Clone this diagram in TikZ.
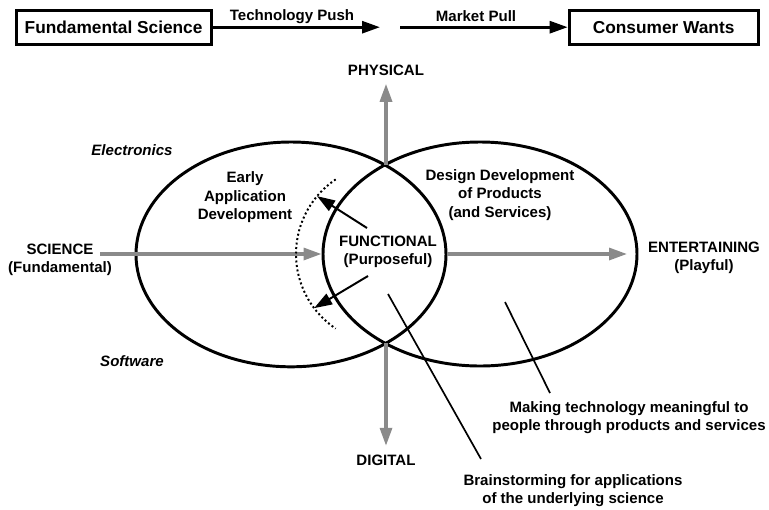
\documentclass[tikz,border=0pt]{standalone}
\usepackage{fontspec}
\setmainfont{Liberation Sans}
\usetikzlibrary{arrows.meta, shapes.geometric, calc}
\definecolor{axisgray}{RGB}{138, 138, 138}

\begin{document}
\begin{tikzpicture}[
    lbl/.style={font=\fontsize{10.7}{12.9}\selectfont\bfseries, align=center, inner sep=1pt},
    endbox/.style={draw, line width=2pt, font=\fontsize{12.3}{14}\selectfont\bfseries,
        minimum height=0.85cm, inner sep=0pt},
    flow/.style={-{Triangle[length=0.45cm, width=0.3cm]}, line width=2pt},
    axis/.style={flow, axisgray, line width=2.3pt},
    zone/.style={ellipse, draw, line width=2.1pt, inner sep=0pt},
    leader/.style={line width=1.2pt}
]
\useasboundingbox (0,0) rectangle (19.225,-12.725);

% =============================================
% TOP ROW: push / pull
% =============================================

\node[endbox, minimum width=4.875cm] (fund) at (2.84,-0.68) {Fundamental Science};
\node[endbox, minimum width=4.725cm] (want) at (16.59,-0.68) {Consumer Wants};

\coordinate (pushend) at (9.5,0);
\coordinate (pullstart) at (10.0,0);

\draw[flow] (fund.east) -- (fund.east -| pushend);
\draw[flow] (want.west -| pullstart) -- (want.west);

\node[lbl] (push) at (7.3,-0.425) {Technology Push};
\node[lbl] (pull) at (11.9,-0.4) {Market Pull};

% =============================================
% The two overlapping zones
% =============================================

\node[zone, minimum width=7.75cm, minimum height=5.62cm] (sci) at (7.275,-6.36) {};
\node[zone, minimum width=7.85cm, minimum height=5.6cm] (des) at (12.0,-6.35) {};

% Axis labels
\node[lbl] (phys) at (9.65,-1.75) {PHYSICAL};
\node[lbl] (digi) at (9.65,-11.5) {DIGITAL};
\node[lbl] (scil) at (1.5,-6.49) {SCIENCE\\(Fundamental)};
\node[lbl] (ent) at (17.6,-6.45) {ENTERTAINING\\(Playful)};
\node[lbl] (func) at (9.7,-6.3) {FUNCTIONAL\\(Purposeful)};

% Gray axes
\coordinate (hub) at (9.65,-6.35);
\coordinate (topx) at (9.65,-4.13);
\coordinate (botx) at (9.65,-8.58);
\coordinate (scistart) at (2.5,-6.35);
\coordinate (entend) at (15.675,-6.35);

\draw[axis] (scistart) -- (des.west);
\draw[axis] (sci.east |- hub) -- (entend);
\draw[axis, shorten >=0.17cm] (topx) -- (phys.south);
\draw[axis, shorten >=0.18cm] (botx) -- (digi.north);

% Zone labels
\node[lbl, font=\fontsize{10.7}{12.9}\selectfont\bfseries\itshape] (elec) at (3.3,-3.75) {Electronics};
\node[lbl, font=\fontsize{10.7}{12.9}\selectfont\bfseries\itshape] (soft) at (3.3,-9.025) {Software};
\node[lbl] (early) at (6.125,-4.93) {Early\\Application\\Development};
\node[lbl] (design) at (12.5,-4.875) {Design Development\\of Products\\(and Services)};

% Dotted sweep with the two outward arrows
\draw[line width=1.4pt, dash pattern=on 1.4pt off 1.8pt]
    ($(hub)+(124:2.25)$) arc[start angle=124, end angle=236, radius=2.25];

\coordinate (up) at (9.175,-5.7);
\coordinate (uptip) at ($(hub)+(140:2.25)$);
\coordinate (dn) at (9.2,-6.9);
\coordinate (dntip) at ($(hub)+(217:2.25)$);
\draw[flow, line width=1.4pt] (up) -- (uptip);
\draw[flow, line width=1.4pt] (dn) -- (dntip);

% =============================================
% Callouts
% =============================================

\node[lbl] (making) at (15.725,-10.44) {Making technology meaningful to\\people through products and services};
\node[lbl] (brain) at (14.325,-12.275) {Brainstorming for applications\\of the underlying science};

\coordinate (mk0) at (12.625,-7.55);
\coordinate (mk1) at (13.75,-9.825);
\coordinate (br0) at (9.7,-7.35);
\coordinate (br1) at (12.025,-11.475);
\draw[leader] (mk0) -- (mk1);
\draw[leader] (br0) -- (br1);

\end{tikzpicture}
\end{document}
